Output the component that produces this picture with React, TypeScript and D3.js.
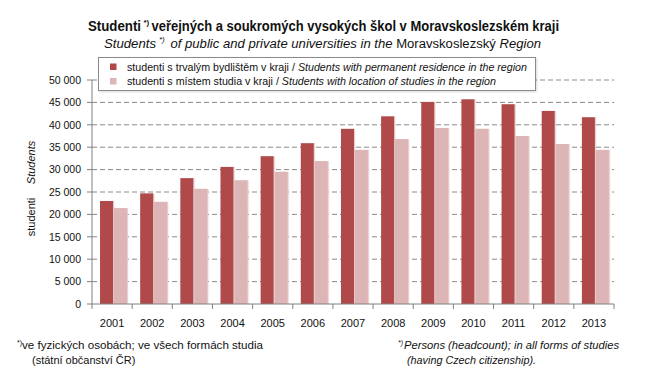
import React from "react";
import * as d3 from "d3";

const years = ["2001","2002","2003","2004","2005","2006","2007","2008","2009","2010","2011","2012","2013"];
const permanentResidence = [23000,24700,28100,30600,33000,35900,39100,41900,45100,45700,44600,43100,41700];
const studyLocation = [21400,22800,25700,27600,29500,31900,34400,36800,39300,39100,37500,35700,34400];
const yTicks = [0,5000,10000,15000,20000,25000,30000,35000,40000,45000,50000];

const DARK = "#B0484A";
const LIGHT = "#DDB5B6";
const FONT = "'Liberation Sans', Arial, sans-serif";

const locale = d3.formatLocale({ decimal: ",", thousands: " ", grouping: [3], currency: ["", ""] });
const fmt = locale.format(",d");

export default function App() {
  const W = 647, H = 384;
  const x = d3.scaleBand<string>().domain(years).range([92, 614]).padding(0);
  const y = d3.scaleLinear().domain([0, 50000]).range([304, 80]);
  const bw = x.bandwidth();
  const barW = bw * 0.325;

  return (
    <svg width={W} height={H} style={{ position: "absolute", left: 0, top: 0, background: "#fff" }} fontFamily={FONT}>
      <defs>
        <filter id="sh" x="-20%" y="-5%" width="150%" height="110%">
          <feDropShadow dx="1.2" dy="0" stdDeviation="0.7" floodColor="#e8c8c8" floodOpacity="0.9" />
        </filter>
        <filter id="lsh" x="-5%" y="-10%" width="110%" height="130%">
          <feDropShadow dx="1" dy="1" stdDeviation="0.8" floodColor="#000" floodOpacity="0.15" />
        </filter>
      </defs>
      <rect width={W} height={H} fill="#fff" />

      {/* Title */}
      <text x={88} y={31} fontSize={14} fontWeight="bold" fill="#111" textLength={53} lengthAdjust="spacingAndGlyphs">Studenti</text>
      <text x={143.5} y={24.5} fontSize={8} fontWeight="bold" fill="#111">*)</text>
      <text x={151.5} y={31} fontSize={14} fontWeight="bold" fill="#111" textLength={407.5} lengthAdjust="spacingAndGlyphs">veřejných a soukromých vysokých škol v Moravskoslezském kraji</text>

      <text x={104} y={48} fontSize={12.5} fontStyle="italic" fill="#111" textLength={52} lengthAdjust="spacingAndGlyphs">Students</text>
      <text x={159} y={42} fontSize={8} fontStyle="italic" fill="#111">*)</text>
      <text x={170.5} y={48} fontSize={12.5} fill="#111" textLength={370.5} lengthAdjust="spacingAndGlyphs">
        <tspan fontStyle="italic">of public and private universities in the </tspan><tspan>Moravskoslezský</tspan><tspan fontStyle="italic"> Region</tspan>
      </text>

      {/* Gridlines */}
      {yTicks.filter(t => t > 0).map(t => (
        <line key={"g" + t} x1={92} x2={614} y1={y(t)} y2={y(t)} stroke="#8a8a8a" strokeWidth={1} strokeDasharray="5,3" />
      ))}

      {/* Bars */}
      {years.map((yr, i) => (
        <g key={yr} filter="url(#sh)">
          <rect x={x(yr)! + bw * 0.2} y={y(permanentResidence[i])} width={barW} height={y(0) - y(permanentResidence[i])} fill={DARK} />
          <rect x={x(yr)! + bw * 0.545} y={y(studyLocation[i])} width={barW} height={y(0) - y(studyLocation[i])} fill={LIGHT} />
        </g>
      ))}

      {/* Axes */}
      <line x1={92} x2={92} y1={y(50000)} y2={y(0)} stroke="#808080" strokeWidth={1} />
      <line x1={92} x2={614} y1={y(0)} y2={y(0)} stroke="#808080" strokeWidth={1} />
      {yTicks.map(t => (
        <g key={"yt" + t}>
          <line x1={87} x2={92} y1={y(t)} y2={y(t)} stroke="#808080" />
          <text x={81} y={y(t) + 3.8} fontSize={10.5} textAnchor="end" fill="#111">{fmt(t)}</text>
        </g>
      ))}
      {[...years.map(yr => x(yr)!), 614].map((px, i) => (
        <line key={"xt" + i} x1={px} x2={px} y1={y(0)} y2={y(0) + 5} stroke="#808080" />
      ))}
      {years.map(yr => (
        <text key={"xl" + yr} x={x(yr)! + bw / 2} y={327} fontSize={11} textAnchor="middle" fill="#111">{yr}</text>
      ))}

      {/* Y axis titles */}
      <text transform="translate(35,217) rotate(-90)" fontSize={11} textAnchor="middle" fill="#111">studenti</text>
      <text transform="translate(35,162.5) rotate(-90)" fontSize={11} fontStyle="italic" textAnchor="middle" fill="#111">Students</text>

      {/* Legend */}
      <rect x={98.5} y={57.5} width={437} height={33} fill="#fff" stroke="#8a8a8a" strokeWidth={1} filter="url(#lsh)" />
      <rect x={110} y={63.5} width={6.5} height={6.5} fill={DARK} />
      <rect x={110} y={78} width={6.5} height={6.5} fill={LIGHT} />
      <text x={127} y={70.8} fontSize={11} fill="#111" textLength={400} lengthAdjust="spacingAndGlyphs">
        studenti s trvalým bydlištěm v kraji / <tspan fontStyle="italic">Students with permanent residence in the region</tspan>
      </text>
      <text x={127} y={85.2} fontSize={11} fill="#111" textLength={369} lengthAdjust="spacingAndGlyphs">
        studenti s místem studia v kraji / <tspan fontStyle="italic">Students with location of studies in the region</tspan>
      </text>

      {/* Footnotes */}
      <text x={17} y={345} fontSize={7} fill="#111">*)</text>
      <text x={22} y={349} fontSize={11} fill="#111" textLength={241} lengthAdjust="spacingAndGlyphs">ve fyzických osobách; ve všech formách studia</text>
      <text x={32} y={364} fontSize={11} fill="#111">(státní občanství ČR)</text>
      <text x={398} y={345} fontSize={7} fontStyle="italic" fill="#111">*)</text>
      <text x={404} y={349} fontSize={11} fontStyle="italic" fill="#111" textLength={215} lengthAdjust="spacingAndGlyphs">Persons (headcount); in all forms of studies</text>
      <text x={407} y={364} fontSize={11} fontStyle="italic" fill="#111" textLength={129} lengthAdjust="spacingAndGlyphs">(having Czech citizenship).</text>
    </svg>
  );
}
